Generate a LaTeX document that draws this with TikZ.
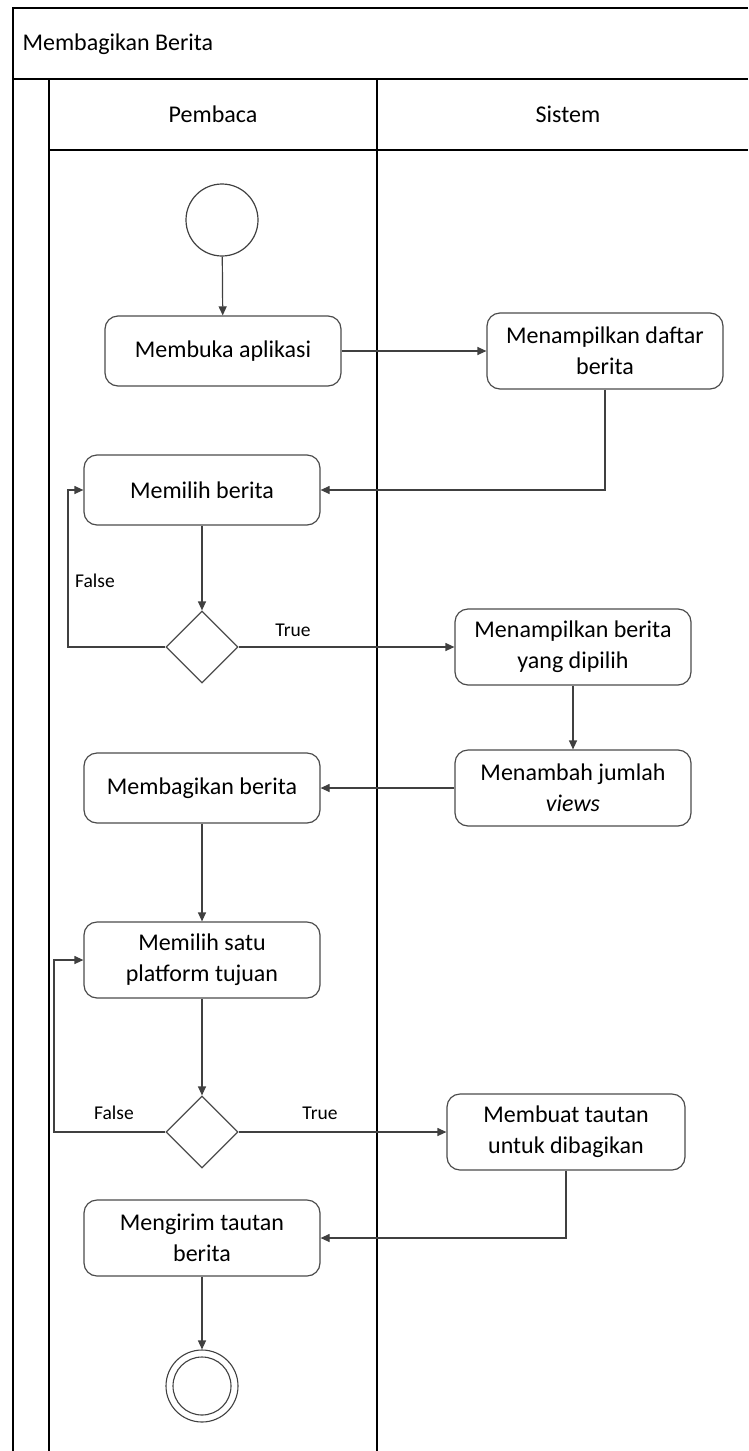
\documentclass[tikz,border=0pt]{standalone}
\usepackage{fontspec}
\setmainfont{Carlito}
\usetikzlibrary{shapes.geometric,arrows.meta}
\begin{document}
\begin{tikzpicture}[x=1pt,y=-1pt,
  frame/.style={draw=black,line width=1.4pt},
  act/.style={draw=black!70,line width=1.2pt,rounded corners=13pt,fill=white,
    minimum width=236pt,minimum height=70pt,align=center,font=\fontsize{24}{31}\selectfont,inner sep=2pt},
  tall/.style={act,minimum height=76pt},
  dec/.style={draw=black!70,line width=1.2pt,diamond,minimum width=72pt,minimum height=72pt,inner sep=0pt},
  flow/.style={draw=black!75,line width=1.2pt,-{Triangle[length=9pt,width=8pt]}},
  lbl/.style={font=\fontsize{19.5}{22}\selectfont},
  lanetext/.style={font=\fontsize{24}{28}\selectfont}]
\useasboundingbox (0,0) rectangle (748,1451);
% pool frame
\draw[frame] (748,8) -- (13,8) -- (13,1451);
\draw[frame] (13,79) -- (748,79);
\draw[frame] (49,79) -- (49,1451);
\draw[frame] (49,150) -- (748,150);
\draw[frame] (377,79) -- (377,1451);
\node[lanetext,anchor=west] (title) at (19,44) {Membagikan Berita};
\node[lanetext] (lane1) at (213,114) {Pembaca};
\node[lanetext] (lane2) at (568,114) {Sistem};
% activities
\node[draw=black!75,line width=1.2pt,circle,minimum size=72pt] (start) at (222,220) {};
\node[act] (buka) at (223,351) {Membuka aplikasi};
\node[tall] (daftar) at (605,351) {Menampilkan daftar\\berita};
\node[act] (pilih) at (202,490) {Memilih berita};
\node[dec] (d1) at (202,647) {};
\node[tall] (tampil) at (573,647) {Menampilkan berita\\yang dipilih};
\node[tall] (tambah) at (573,788) {Menambah jumlah\\\textit{views}};
\node[act] (bagi) at (202,788) {Membagikan berita};
\node[tall] (platform) at (202,960) {Memilih satu\\platform tujuan};
\node[dec] (d2) at (202,1132) {};
\node[tall,minimum width=238pt] (tautan) at (566,1132) {Membuat tautan\\untuk dibagikan};
\node[tall] (kirim) at (202,1238) {Mengirim tautan\\berita};
\node[draw=black!75,line width=1.1pt,circle,minimum size=72pt] (end) at (202,1386) {};
\node[draw=black!75,line width=1.1pt,circle,minimum size=58pt] (endin) at (end) {};
% flows
\draw[flow] (start) -- (buka);
\draw[flow] (buka) -- (daftar);
\draw[flow] (daftar.south) |- (pilih.east);
\draw[flow] (pilih) -- (d1);
\draw[flow] (d1.west) -- (68,647) |- (pilih.west);
\node[lbl] (f1) at (95,581) {False};
\draw[flow] (d1.east) -- (tampil.west);
\node[lbl] (t1) at (293,630) {True};
\draw[flow] (tampil) -- (tambah);
\draw[flow] (tambah) -- (bagi);
\draw[flow] (bagi) -- (platform);
\draw[flow] (platform) -- (d2);
\draw[flow] (d2.west) -- (54,1132) |- (platform.west);
\node[lbl] (f2) at (114,1113) {False};
\draw[flow] (d2.east) -- (tautan.west);
\node[lbl] (t2) at (320,1113) {True};
\draw[flow] (tautan.south) |- (kirim.east);
\draw[flow] (kirim) -- (end);
\end{tikzpicture}
\end{document}
